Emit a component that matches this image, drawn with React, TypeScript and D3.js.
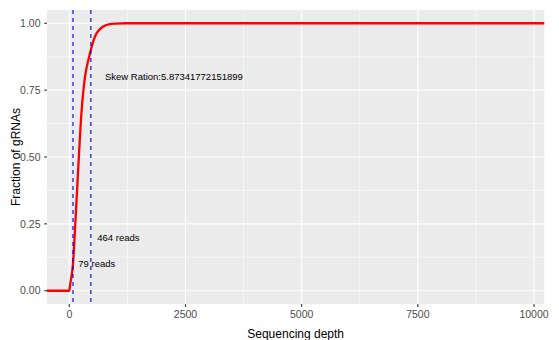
import React from "react";
import * as d3 from "d3";

const depth = [-480, 0, 20, 79, 137, 194, 266, 338, 410, 464, 520, 589, 660, 732, 850, 1000, 1200, 3400, 10221];
const fraction = [0, 0, 0.025, 0.1, 0.277, 0.464, 0.676, 0.8, 0.863, 0.9, 0.935, 0.963, 0.978, 0.988, 0.996, 0.999, 1.0, 1.0, 1.0];
const cutoffs = [79, 464];
const xTicks = [0, 2500, 5000, 7500, 10000];
const xMinor = [1250, 3750, 6250, 8750];
const yTicks = [0, 0.25, 0.5, 0.75, 1.0];
const yMinor = [0.125, 0.375, 0.625, 0.875];
const labels = [
  { text: "Skew Ration:5.87341772151899", x: 768, y: 0.8 },
  { text: "464 reads", x: 602, y: 0.2 },
  { text: "79 reads", x: 194, y: 0.1 },
];

const W = 559, H = 340;
const L = 47, R = 544.3, T = 9.9, B = 304.1;
const font = "'Liberation Sans', Arial, sans-serif";

export default function App() {
  const x = d3.scaleLinear().domain([-480, 10221]).range([L, R]);
  const y = d3.scaleLinear().domain([-0.05, 1.05]).range([B, T]);
  const pts = depth.map((d, i) => [d, fraction[i]] as [number, number]);
  const line = d3
    .line<[number, number]>()
    .x((d) => x(d[0]))
    .y((d) => y(d[1]))
    .curve(d3.curveMonotoneX);
  return (
    <svg width={W} height={H} style={{ position: "absolute", left: 0, top: 0, fontFamily: font }}>
      <rect x={0} y={0} width={W} height={H} fill="#fff" />
      <rect x={L} y={T} width={R - L} height={B - T} fill="#EBEBEB" />
      {xMinor.map((v) => (
        <line key={"xm" + v} x1={x(v)} x2={x(v)} y1={T} y2={B} stroke="#fff" strokeWidth={0.55} />
      ))}
      {yMinor.map((v) => (
        <line key={"ym" + v} x1={L} x2={R} y1={y(v)} y2={y(v)} stroke="#fff" strokeWidth={0.55} />
      ))}
      {xTicks.map((v) => (
        <line key={"xg" + v} x1={x(v)} x2={x(v)} y1={T} y2={B} stroke="#fff" strokeWidth={1.1} />
      ))}
      {yTicks.map((v) => (
        <line key={"yg" + v} x1={L} x2={R} y1={y(v)} y2={y(v)} stroke="#fff" strokeWidth={1.1} />
      ))}
      <path d={line(pts) || ""} fill="none" stroke="#FF0000" strokeWidth={2.3} strokeLinejoin="round" />
      {cutoffs.map((v) => (
        <line key={"c" + v} x1={x(v)} x2={x(v)} y1={T} y2={B} stroke="#0000CC" strokeWidth={1.1} strokeDasharray="4,4" />
      ))}
      {labels.map((l) => (
        <text key={l.text} x={x(l.x)} y={y(l.y)} dy="0.35em" fontSize={9.5} fill="#000">
          {l.text}
        </text>
      ))}
      {xTicks.map((v) => (
        <g key={"xt" + v}>
          <line x1={x(v)} x2={x(v)} y1={B} y2={B + 2.8} stroke="#333" strokeWidth={1.1} />
          <text x={x(v)} y={317.5} textAnchor="middle" fontSize={10.5} fill="#4D4D4D">
            {v}
          </text>
        </g>
      ))}
      {yTicks.map((v) => (
        <g key={"yt" + v}>
          <line x1={L - 2.8} x2={L} y1={y(v)} y2={y(v)} stroke="#333" strokeWidth={1.1} />
          <text x={40.5} y={y(v)} dy="0.35em" textAnchor="end" fontSize={10.5} fill="#4D4D4D">
            {d3.format(".2f")(v)}
          </text>
        </g>
      ))}
      <text x={(L + R) / 2} y={337.5} textAnchor="middle" fontSize={12} fill="#000">
        Sequencing depth
      </text>
      <text transform={`translate(20,${(T + B) / 2}) rotate(-90)`} textAnchor="middle" fontSize={12} fill="#000">
        Fraction of gRNAs
      </text>
    </svg>
  );
}
